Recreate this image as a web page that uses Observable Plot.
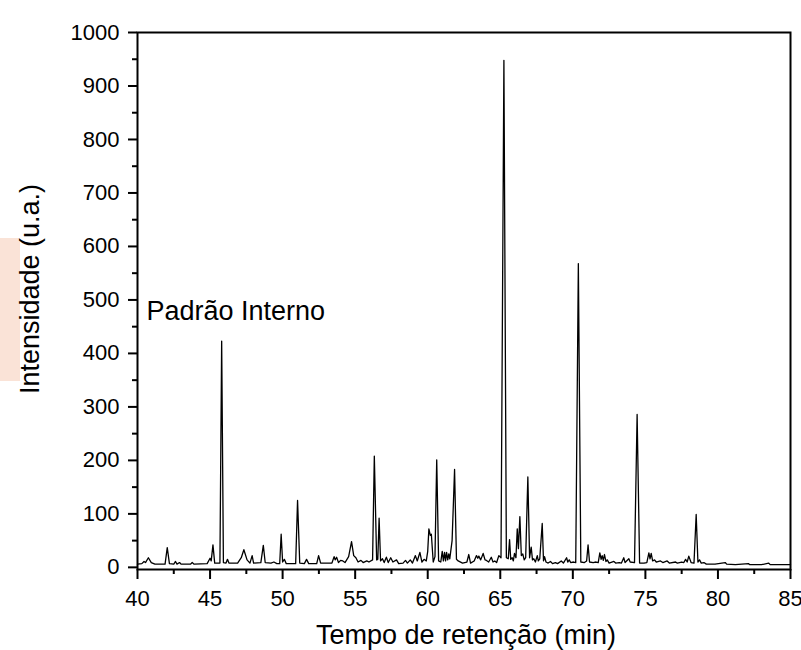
<!DOCTYPE html>
<html>
<head>
<meta charset="utf-8">
<script src="https://cdn.jsdelivr.net/npm/d3@7"></script>
<script src="https://cdn.jsdelivr.net/npm/@observablehq/plot@0.6"></script>
<style>
  body { margin: 0; background: white; }
  #wrap { position: relative; width: 801px; height: 650px; }
  #patch { position: absolute; left: 0; top: 238px; width: 20px; height: 143px; background: #fae3d7; z-index: 0; }
  #chart { position: absolute; left: 0; top: 0; z-index: 1; }
</style>
</head>
<body>
<div id="wrap"><div id="patch"></div><div id="chart"></div></div>
<script>
// Retention time (min) and intensity (u.a.)
const times = [
  40.0, 40.3, 40.45, 40.55, 40.75, 40.95, 41.2, 41.9, 42.05, 42.2, 42.5, 42.62, 42.72, 42.9, 43.0, 43.65, 43.77, 43.9,
  44.8, 45.0, 45.08, 45.2, 45.32, 45.68, 45.8, 45.92, 46.1, 46.2, 46.3, 46.9, 47.15, 47.33, 47.55, 47.75, 47.9, 48.0,
  48.5, 48.67, 48.8, 49.2, 49.4, 49.6, 49.8, 49.9, 50.0, 50.12, 50.25, 50.9, 51.03, 51.18, 51.5, 51.65, 51.8,
  52.35, 52.48, 52.62, 53.4, 53.55, 53.62, 53.72, 53.85, 54.0, 54.15, 54.3, 54.55, 54.75, 54.9, 55.05, 55.2, 55.4,
  55.55, 55.8, 55.95, 56.2, 56.32, 56.48, 56.56, 56.65, 56.75, 56.88, 57.0, 57.15, 57.28, 57.45, 57.6, 57.85, 58.0,
  58.3, 58.47, 58.6, 58.8, 58.95, 59.15, 59.28, 59.46, 59.6, 59.75, 59.9, 60.0, 60.08, 60.18, 60.25, 60.38, 60.5,
  60.62, 60.75, 60.9, 61.0, 61.08, 61.16, 61.23, 61.3, 61.38, 61.45, 61.52, 61.68, 61.85, 61.98, 62.1, 62.4, 62.7,
  62.83, 62.95, 63.2, 63.36, 63.45, 63.52, 63.65, 63.82, 63.95, 64.05, 64.2, 64.38, 64.5, 64.62, 64.75, 64.9, 65.05,
  65.25, 65.42, 65.55, 65.64, 65.72, 65.82, 65.9, 65.98, 66.08, 66.17, 66.25, 66.35, 66.45, 66.55, 66.65, 66.75,
  66.9, 67.02, 67.13, 67.22, 67.31, 67.42, 67.55, 67.62, 67.72, 67.89, 67.98, 68.05, 68.15, 68.3, 68.46, 68.6,
  68.8, 68.95, 69.2, 69.35, 69.57, 69.65, 69.75, 69.85, 70.05, 70.2, 70.38, 70.55, 70.8, 70.95, 71.05, 71.15,
  71.4, 71.6, 71.75, 71.86, 71.95, 72.02, 72.1, 72.18, 72.28, 72.37, 72.5, 72.83, 72.95, 73.2, 73.35, 73.51, 73.6,
  73.86, 73.95, 74.25, 74.43, 74.6, 74.9, 75.1, 75.24, 75.32, 75.4, 75.5, 75.63, 75.75, 76.04, 76.2, 76.5, 76.65,
  77.08, 77.2, 77.5, 77.65, 77.77, 77.88, 77.99, 78.15, 78.35, 78.5, 78.62, 78.73, 78.85, 79.03, 79.2, 79.8,
  80.5, 80.6, 81.2, 82.1, 82.2, 83.0, 83.5, 83.6, 84.2, 85.0
];
const intensities = [
  6, 7, 11, 9, 18, 9, 6, 6, 37, 7, 6, 11, 6, 9, 6, 6, 9, 6,
  7, 17, 12, 42, 8, 8, 423, 9, 8, 15, 8, 8, 18, 33, 14, 8, 22, 8,
  9, 41, 9, 8, 10, 7, 7, 62, 10, 15, 7, 7, 125, 8, 7, 15, 7,
  7, 22, 8, 8, 20, 14, 19, 9, 13, 12, 9, 20, 48, 22, 18, 10, 13,
  9, 12, 10, 14, 208, 14, 15, 92, 12, 16, 9, 19, 9, 18, 10, 14, 7,
  8, 13, 8, 14, 8, 22, 12, 28, 10, 15, 12, 30, 72, 60, 62, 10, 20,
  201, 12, 10, 30, 12, 28, 12, 28, 14, 25, 16, 50, 183, 15, 12, 8, 10,
  24, 8, 12, 22, 17, 21, 14, 26, 14, 13, 10, 19, 10, 12, 9, 22, 18,
  948, 18, 16, 52, 15, 18, 12, 26, 18, 72, 35, 95, 22, 25, 14, 18,
  169, 18, 38, 14, 16, 10, 22, 12, 16, 82, 12, 20, 10, 8, 11, 7,
  9, 7, 12, 8, 18, 10, 14, 9, 10, 9, 568, 10, 9, 12, 42, 10,
  9, 10, 9, 27, 15, 22, 13, 24, 11, 14, 8, 11, 8, 9, 8, 18, 9,
  16, 10, 9, 286, 8, 8, 9, 27, 16, 26, 12, 14, 10, 12, 9, 12, 8,
  10, 8, 10, 9, 15, 10, 21, 9, 8, 99, 10, 14, 8, 9, 6, 6,
  9, 6, 5, 7, 5, 5, 8, 5, 5, 5
];
const xMajorTicks = [40, 45, 50, 55, 60, 65, 70, 75, 80, 85];
const xMinorTicks = [42.5, 47.5, 52.5, 57.5, 62.5, 67.5, 72.5, 77.5, 82.5];
const yMajorTicks = [0, 100, 200, 300, 400, 500, 600, 700, 800, 900, 1000];
const yMinorTicks = [50, 150, 250, 350, 450, 550, 650, 750, 850, 950];
const xTitle = "Tempo de retenção (min)";
const yTitle = "Intensidade (u.a.)";
const annotation = {label: "Padrão Interno", t: 40.62, v: 479};

const data = times.map((t, i) => ({t, v: intensities[i]}));
const font = "'Liberation Sans', Arial, sans-serif";

const chart = Plot.plot({
  width: 801,
  height: 650,
  marginLeft: 137,
  marginRight: 11,
  marginTop: 32,
  marginBottom: 81,
  style: {fontFamily: font, fontSize: "22px", color: "black", background: "transparent", overflow: "visible"},
  x: {domain: [40, 85], label: null},
  y: {domain: [-4, 1000], label: null},
  marks: [
    Plot.line(data, {x: "t", y: "v", stroke: "black", strokeWidth: 1.3}),
    Plot.frame({stroke: "black", strokeWidth: 2}),
    Plot.axisX(xMajorTicks, {tickSize: 10, tickPadding: 11, strokeWidth: 2, fontSize: 22, tickFormat: d => String(d), label: null}),
    Plot.axisX(xMinorTicks, {tickSize: 5, strokeWidth: 2, fill: "none", label: null}),
    Plot.axisY(yMajorTicks, {tickSize: 9, tickPadding: 9, strokeWidth: 2, fontSize: 22, tickFormat: d => String(d), label: null}),
    Plot.axisY(yMinorTicks, {tickSize: 5, strokeWidth: 2, fill: "none", label: null}),
    Plot.text([annotation], {x: "t", y: "v", text: "label", textAnchor: "start", lineAnchor: "middle", fontSize: 27, fill: "black"}),
    Plot.text([xTitle], {frameAnchor: "bottom", textAnchor: "middle", lineAnchor: "middle", dx: 2, dy: 66, fontSize: 27, fill: "black"}),
    Plot.text([yTitle], {frameAnchor: "left", textAnchor: "middle", lineAnchor: "middle", rotate: -90, dx: -107, dy: -12, fontSize: 27, fill: "black"})
  ]
});
document.getElementById("chart").appendChild(chart);
</script>
</body>
</html>
